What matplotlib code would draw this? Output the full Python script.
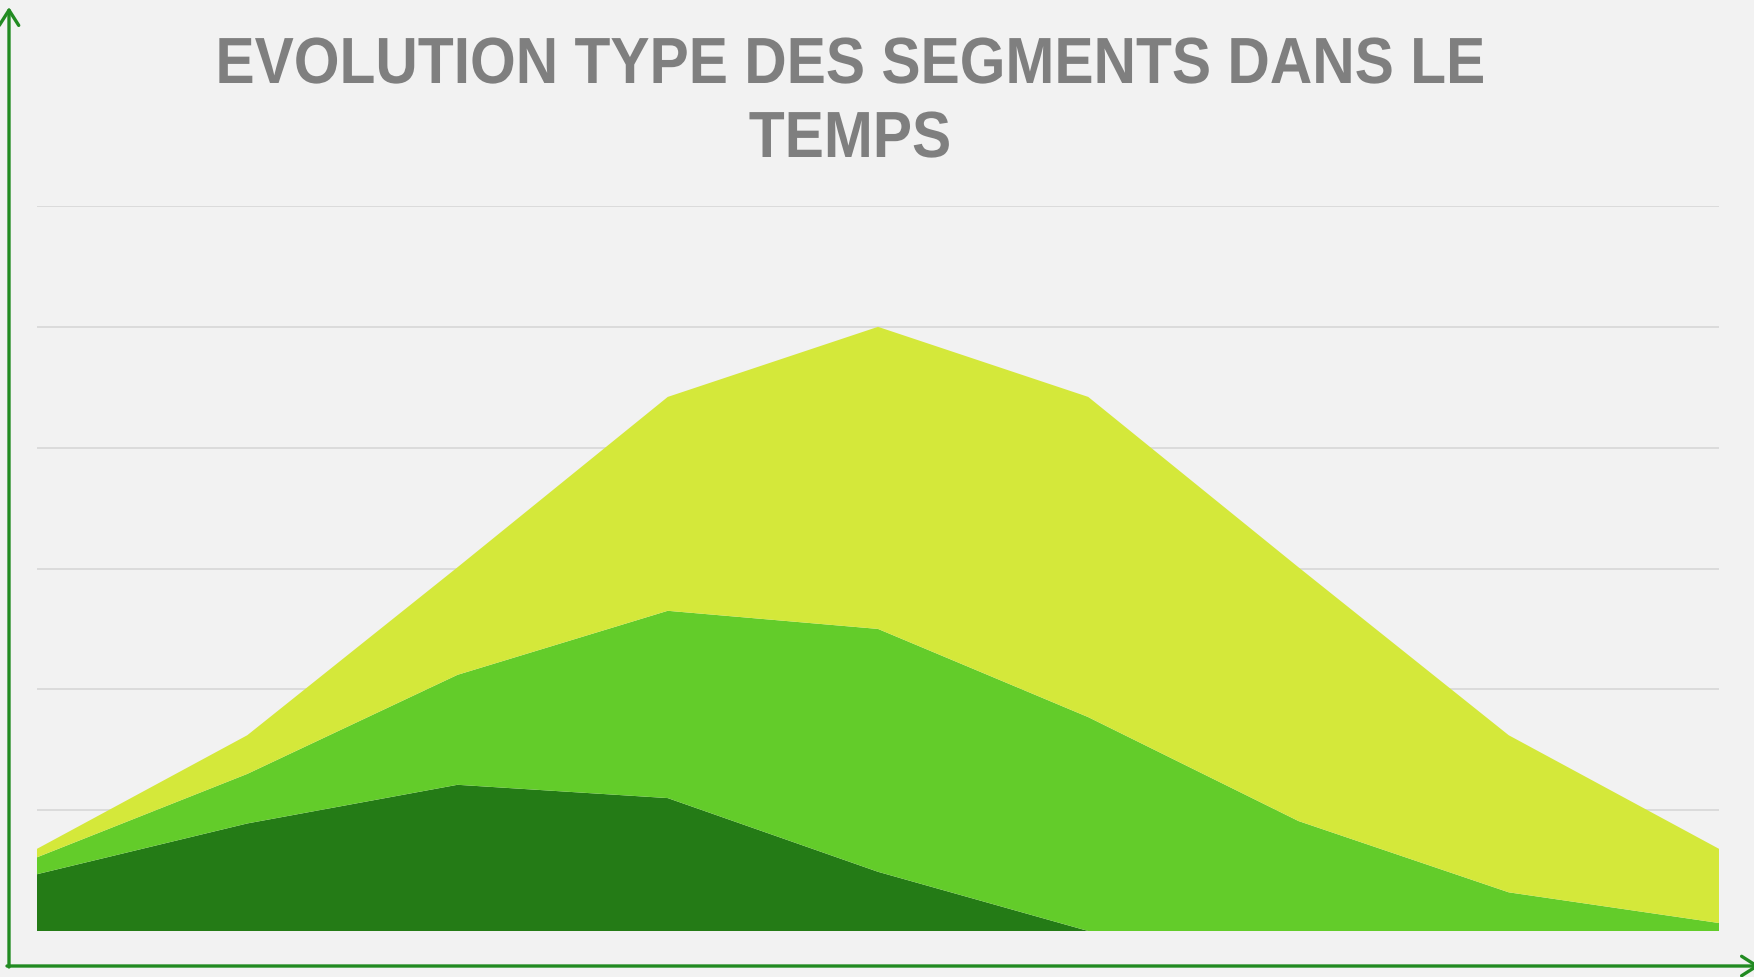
import matplotlib
matplotlib.use('Agg')
import matplotlib.pyplot as plt
from matplotlib.patches import FancyArrowPatch
from matplotlib.patheffects import AbstractPathEffect
from matplotlib.transforms import Affine2D
import numpy as np

# periods (no labels shown on the chart)
periodes = np.arange(9)
segment_fonce = [0.47, 0.89, 1.21, 1.10, 0.49, 0.0, 0.0, 0.0, 0.0]
segment_moyen = [0.14, 0.41, 0.91, 1.55, 2.01, 1.77, 0.91, 0.32, 0.066]
segment_clair = [0.07, 0.32, 0.89, 1.77, 2.50, 2.65, 2.10, 1.30, 0.614]
grille = [1, 2, 3, 4, 5, 6]
titre1 = 'EVOLUTION TYPE DES SEGMENTS DANS LE'
titre2 = 'TEMPS'

couleurs = ['#247B16', '#63CC2A', '#D4E83A']
fond = '#F2F2F2'
W, H = 1754, 978


class Serre(AbstractPathEffect):
    # squeeze the glyphs horizontally around cx (pixels), like a narrow font
    def __init__(self, sx, cx):
        super().__init__()
        self.sx = sx
        self.cx = cx

    def draw_path(self, renderer, gc, tpath, affine, rgbFace=None):
        aff = affine + Affine2D().translate(-self.cx, 0).scale(self.sx, 1).translate(self.cx, 0)
        renderer.draw_path(gc, tpath, aff, rgbFace)


fig = plt.figure(figsize=(W / 100, H / 100), dpi=100, facecolor=fond)
ax = fig.add_axes([37 / W, 1 - 932 / H, (1719 - 37) / W, (932 - 207) / H])
ax.set_facecolor(fond)

for g in grille:
    ax.axhline(g, color='#D9D9D9', lw=1.3, zorder=0)
ax.axhline(0, color='#D9D9D9', lw=1.3, zorder=0)

ax.stackplot(periodes, segment_fonce, segment_moyen, segment_clair,
             colors=couleurs, lw=0, zorder=2)

ax.set_xlim(periodes[0], periodes[-1])
ax.set_ylim(0, 6)
ax.set_xticks([])
ax.set_yticks([])
for s in ax.spines.values():
    s.set_visible(False)

# axes drawn as green arrows
vert = '#228B22'
def px(x, y):
    return (x / W, 1 - y / H)

fig.add_artist(FancyArrowPatch(px(9, 968), px(9, 8), transform=fig.transFigure,
                               arrowstyle='->,head_length=11,head_width=7',
                               color=vert, lw=2.4, mutation_scale=1,
                               shrinkA=0, shrinkB=0))
fig.add_artist(FancyArrowPatch(px(7, 967), px(1760, 967), transform=fig.transFigure,
                               arrowstyle='->,head_length=11,head_width=7',
                               color=vert, lw=2.4, mutation_scale=1,
                               shrinkA=0, shrinkB=0))

cx = 850
fam = ['Liberation Sans', 'DejaVu Sans']
for txt, yb in [(titre1, 84), (titre2, 158)]:
    fig.text(cx / W, 1 - yb / H, txt, ha='center', va='baseline',
             fontsize=47, fontweight='bold', color='#7F7F7F', family=fam,
             path_effects=[Serre(0.9, cx)])

fig.savefig('out.png', dpi=100, facecolor=fond)
